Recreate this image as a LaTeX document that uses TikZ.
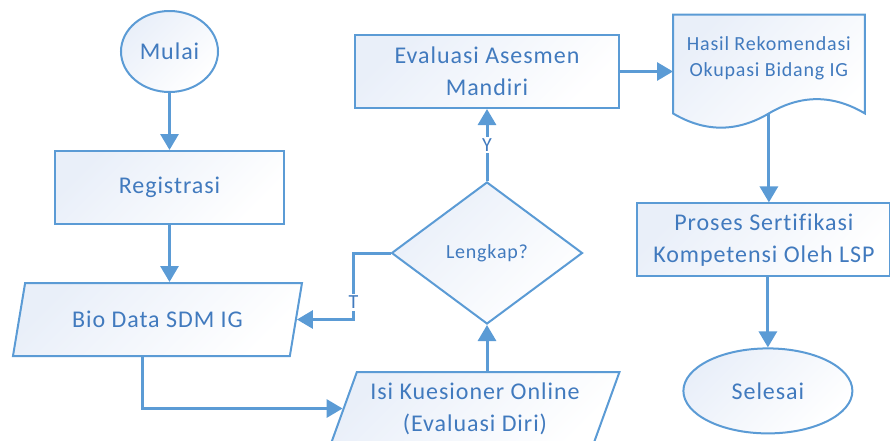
\documentclass[tikz,border=0pt]{standalone}
\usepackage{fontspec}
\setmainfont{Carlito}[LetterSpace=4, Ligatures=NoCommon]
\usepackage{tikz}
\usetikzlibrary{shapes.geometric, arrows.meta, positioning, calc, backgrounds}
\definecolor{myblue}{RGB}{91,155,213}
\definecolor{mytext}{RGB}{65,122,190}
\definecolor{hdrblue}{RGB}{233,239,249}
\tikzset{
  procbox/.style={rectangle, draw=myblue, line width=1pt,
    top color=hdrblue, bottom color=white, shading angle=45,
    text=mytext, align=center, minimum height=36.5pt,
    font=\fontsize{12}{16}\selectfont},
  termbox/.style={ellipse, draw=myblue, line width=1pt,
    top color=hdrblue, bottom color=white, shading angle=45,
    text=mytext, inner sep=0pt, font=\fontsize{12}{16}\selectfont},
  iobox/.style={trapezium, trapezium left angle=68, trapezium right angle=112,
    trapezium stretches body, draw=myblue, line width=1pt,
    top color=hdrblue, bottom color=white, shading angle=45,
    text=mytext, align=center, minimum width=144.5pt, minimum height=36.5pt,
    font=\fontsize{12}{16}\selectfont},
  decbox/.style={diamond, draw=myblue, line width=1pt,
    top color=hdrblue, bottom color=white, shading angle=45,
    text=mytext, inner sep=0pt, minimum width=95.5pt, minimum height=71pt,
    font=\fontsize{10}{12}\selectfont},
  doctext/.style={rectangle, text=mytext, align=center,
    minimum width=95.5pt, minimum height=43pt,
    font=\fontsize{10}{13}\selectfont},
  docbox/.style={draw=myblue, line width=1pt,
    top color=hdrblue, bottom color=white, shading angle=45},
  tag/.style={fill=white, text=mytext, inner sep=1pt,
    font=\fontsize{10}{12}\selectfont},
  arrow/.style={-{Triangle[width=9pt,length=8pt]}, line width=1.5pt, color=myblue}
}

\begin{document}
\begin{tikzpicture}[x=0.5pt, y=-0.5pt]
  \useasboundingbox (0,0) rectangle (890,440);

  % Left column
  \node[termbox, minimum width=48.5pt, minimum height=40.5pt] (mulai) at (169.5,51.5) {Mulai};
  \node[procbox, minimum width=114.5pt, below=28.5pt of mulai] (reg) {Registrasi};
  \node[iobox, below=28.5pt of reg, xshift=-6pt] (bio) {Bio Data SDM IG};

  % Middle column
  \node[procbox, minimum width=132pt] (eval) at (487,71.5) {Evaluasi Asesmen\\Mandiri};
  \node[decbox, below=36pt of eval] (lengkap) {Lengkap?};
  \node[iobox, below=23pt of lengkap, xshift=-6pt] (isi) {Isi Kuesioner Online\\(Evaluasi Diri)};

  % Right column
  \node[doctext, right=26.5pt of eval, yshift=6.75pt] (hasil) {Hasil Rekomendasi\\Okupasi Bidang IG};
  \coordinate (hasilbot) at ([yshift=-6pt]hasil.south);
  \node[procbox, minimum width=126.5pt, below=50.5pt of hasil, xshift=-2.5pt] (proses) {Proses Sertifikasi\\Kompetensi Oleh LSP};
  \node[termbox, minimum width=84.5pt, minimum height=42.5pt, below=35pt of proses, xshift=2pt] (selesai) {Selesai};

  % Document shape
  \begin{scope}[on background layer]
    \filldraw[docbox] ([yshift=-6pt]hasil.south west) -- (hasil.north west) -- (hasil.north east)
      -- ([yshift=-6pt]hasil.south east)
      .. controls +(-16pt,9.5pt) and +(16pt,9.5pt) .. (hasilbot)
      .. controls +(-16pt,-9.5pt) and +(16pt,-9.5pt) .. ([yshift=-6pt]hasil.south west) -- cycle;
  \end{scope}

  % Paths
  \draw[arrow] (mulai) -- (reg);
  \draw[arrow] (reg) -- (reg |- bio.north);
  \draw[arrow] ([xshift=-7.5pt]bio.south) |- (isi.west);
  \draw[arrow] (isi.north -| lengkap) -- (lengkap.south);
  \draw[arrow] (lengkap) -- node[tag] {Y} (eval);
  \draw[arrow] (lengkap.west) -- ++(-18.5pt,0) |- node[tag, pos=0.37] {T} (bio.east);
  \draw[arrow] (eval) -- (eval -| hasil.west);
  \draw[arrow] (hasilbot) -- (hasilbot |- proses.north);
  \draw[arrow] (selesai |- proses.south) -- (selesai);
\end{tikzpicture}
\end{document}
